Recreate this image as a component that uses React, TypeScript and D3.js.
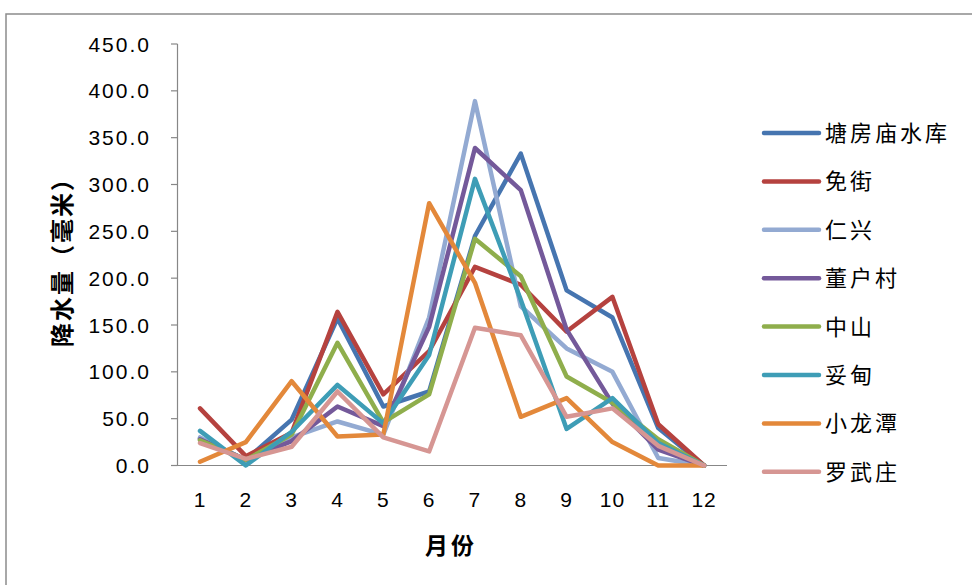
import React from "react";
import * as d3 from "d3";

const months = ["1", "2", "3", "4", "5", "6", "7", "8", "9", "10", "11", "12"];
const yTicks = [0, 50, 100, 150, 200, 250, 300, 350, 400, 450];

const seriesNames = ["塘房庙水库", "免街", "仁兴", "董户村", "中山", "妥甸", "小龙潭", "罗武庄"];
const seriesColors = ["#4675B0", "#B5423F", "#93AAD2", "#74599A", "#8FAE4C", "#3E9DB6", "#E3883A", "#D69693"];

const tangfangmiao = [29, 6, 49, 157, 63, 79, 245, 333, 187, 158, 40, 0];
const mianjie = [61, 10, 35, 164, 76, 122, 212, 193, 143, 180, 44, 0];
const renxing = [30, 5, 30, 47, 33, 158, 389, 170, 125, 100, 8, 0];
const donghucun = [28, 6, 26, 63, 42, 148, 339, 294, 145, 66, 17, 0];
const zhongshan = [27, 6, 33, 131, 46, 76, 242, 202, 95, 67, 28, 0];
const tuodian = [37, 0, 36, 86, 45, 118, 306, 177, 39, 72, 24, 0];
const xiaolongtan = [4, 25, 90, 31, 33, 280, 195, 52, 72, 25, 0, 0];
const luowuzhuang = [24, 7, 20, 79, 30, 15, 147, 139, 52, 61, 21, 0];

const seriesValues = [tangfangmiao, mianjie, renxing, donghucun, zhongshan, tuodian, xiaolongtan, luowuzhuang];

export default function App() {
  const W = 972, H = 585;
  const x = d3.scaleBand<string>().domain(months).range([177.1, 727]);
  const y = d3.scaleLinear().domain([0, 450]).range([465.5, 44]);
  const cx = (m: string) => (x(m) as number) + x.bandwidth() / 2;
  const line = d3
    .line<number>()
    .x((_, i) => cx(months[i]))
    .y((v) => y(v));

  const axisColor = "#878787";
  const numFont = "'Liberation Sans', Arial, sans-serif";
  const cjkFont = "'Noto Sans CJK SC', sans-serif";

  return (
    <svg width={W} height={H} style={{ position: "absolute", left: 0, top: 0, background: "#fff" }}>
      <rect x={6} y={14} width={1000} height={600} fill="#fff" stroke="#8c8c8c" strokeWidth={1.5} />
      {/* y axis */}
      <line x1={177.5} x2={177.5} y1={y(450)} y2={y(0)} stroke={axisColor} strokeWidth={1.2} />
      {yTicks.map((t) => (
        <g key={t}>
          <line x1={171} x2={177.5} y1={y(t)} y2={y(t)} stroke={axisColor} strokeWidth={1.2} />
          <text
            x={151}
            y={y(t)}
            dy="0.36em"
            textAnchor="end"
            fontFamily={numFont}
            fontSize={21}
            letterSpacing={2}
            fill="#000"
          >
            {t.toFixed(1)}
          </text>
        </g>
      ))}
      {/* x axis */}
      <line x1={177.1} x2={727} y1={y(0)} y2={y(0)} stroke={axisColor} strokeWidth={1.2} />
      {months.map((m) => (
        <text
          key={m}
          x={cx(m)}
          y={507}
          textAnchor="middle"
          fontFamily={numFont}
          fontSize={21}
          letterSpacing={1}
          fill="#000"
        >
          {m}
        </text>
      ))}
      {/* lines */}
      {seriesValues.map((vals, i) => (
        <path
          key={seriesNames[i]}
          d={line(vals) as string}
          fill="none"
          stroke={seriesColors[i]}
          strokeWidth={4.5}
          strokeLinejoin="round"
          strokeLinecap="round"
        />
      ))}
      {/* axis titles */}
      <text
        transform={`translate(71,256) rotate(-90)`}
        textAnchor="middle"
        fontFamily={cjkFont}
        fontWeight="bold"
        fontSize={24}
        letterSpacing={2}
        fill="#000"
      >
        降水量（毫米）
      </text>
      <text
        x={451}
        y={554}
        textAnchor="middle"
        fontFamily={cjkFont}
        fontWeight="bold"
        fontSize={23}
        letterSpacing={3}
        fill="#000"
      >
        月份
      </text>
      {/* legend */}
      {seriesNames.map((name, i) => {
        const ly = 133 + i * 48.4;
        return (
          <g key={name}>
            <line x1={764} x2={819} y1={ly} y2={ly} stroke={seriesColors[i]} strokeWidth={4.5} strokeLinecap="round" />
            <text x={825} y={ly} dy="0.36em" fontFamily={cjkFont} fontSize={22} letterSpacing={3} fill="#000">
              {name}
            </text>
          </g>
        );
      })}
    </svg>
  );
}
